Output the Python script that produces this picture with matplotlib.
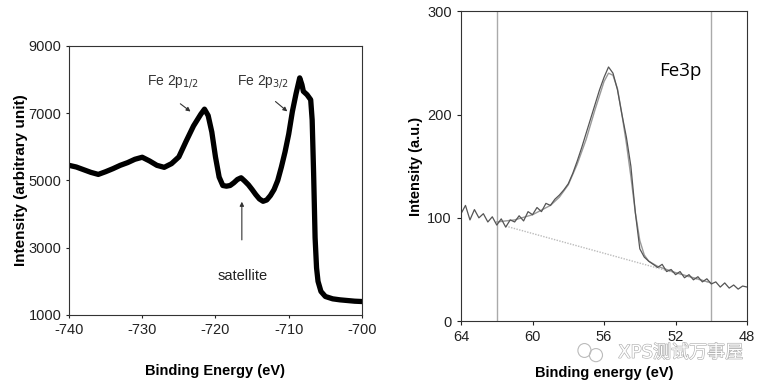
import matplotlib.pyplot as plt
import matplotlib.patheffects as pe
from matplotlib.patches import Ellipse
from matplotlib import font_manager

plt.rcParams['font.family'] = ['Liberation Sans', 'DejaVu Sans']
plt.rcParams['axes.unicode_minus'] = False

names = {f.name for f in font_manager.fontManager.ttflist}
tickfont = 'Liberation Sans Narrow' if 'Liberation Sans Narrow' in names else 'Liberation Sans'

# Fe 2p spectrum (left)
fe2p_energy = [-740, -739, -738, -737, -736, -735, -734, -733, -732, -731, -730,
               -729, -728, -727, -726, -725, -724, -723, -722, -721.5, -721,
               -720.5, -720, -719.5, -719, -718.5, -718, -717.5, -717, -716.5,
               -716, -715.5, -715, -714.5, -714, -713.5, -713, -712.5, -712,
               -711.5, -711, -710.5, -710, -709.5, -709, -708.5, -708.2, -708,
               -707.5, -707, -706.8, -706.6, -706.4, -706.2, -706, -705.6,
               -705, -704, -703, -702, -701, -700]
fe2p_counts = [5450, 5400, 5320, 5240, 5180, 5260, 5350, 5450, 5530, 5630, 5690,
               5580, 5450, 5390, 5500, 5700, 6170, 6620, 6970, 7120, 6930,
               6440, 5700, 5100, 4850, 4830, 4850, 4930, 5030, 5080,
               4980, 4870, 4730, 4580, 4450, 4380, 4420, 4550, 4730,
               5000, 5400, 5850, 6380, 7050, 7580, 8050, 7850, 7650,
               7550, 7400, 6800, 5200, 3300, 2400, 2000, 1700,
               1550, 1480, 1450, 1430, 1410, 1400]

# Fe 3p spectrum (right)
fe3p_energy = [64.0, 63.75, 63.5, 63.25, 63.0, 62.75, 62.5, 62.25, 62.0, 61.75,
               61.5, 61.25, 61.0, 60.75, 60.5, 60.25, 60.0, 59.75, 59.5, 59.25,
               59.0, 58.75, 58.5, 58.25, 58.0, 57.75, 57.5, 57.25, 57.0, 56.75,
               56.5, 56.25, 56.0, 55.75, 55.5, 55.25, 55.0, 54.75, 54.5, 54.25,
               54.0, 53.75, 53.5, 53.25, 53.0, 52.75, 52.5, 52.25, 52.0, 51.75,
               51.5, 51.25, 51.0, 50.75, 50.5, 50.25, 50.0, 49.75, 49.5, 49.25,
               49.0, 48.75, 48.5, 48.25, 48.0]
fe3p_counts = [104, 112, 98, 108, 100, 104, 96, 101, 93, 99,
               91, 98, 96, 102, 97, 106, 103, 110, 106, 114,
               112, 118, 122, 127, 133, 143, 155, 168, 182, 196,
               210, 224, 236, 246, 240, 224, 200, 178, 150, 105,
               70, 62, 58, 55, 52, 55, 48, 50, 45, 48,
               42, 45, 40, 43, 38, 41, 36, 38, 33, 37,
               32, 35, 31, 34, 33]
fit_energy = [62, 61, 60, 59, 58.5, 58, 57.5, 57, 56.5, 56, 55.75, 55.5, 55.25,
              55, 54.75, 54.5, 54.25, 54, 53.75, 53.5, 53, 52, 51, 50]
fit_counts = [96, 98, 103, 112, 120, 132, 152, 176, 205, 232, 240, 238, 225,
              200, 172, 140, 105, 78, 64, 58, 53, 47, 42, 37]
base_energy = [61.5, 50]
base_counts = [92, 37]
bounds = [62, 50]

fig = plt.figure(figsize=(7.69, 3.86), dpi=100)

# ---- left panel
ax1 = fig.add_axes([0.0897, 0.184, 0.381, 0.697])
ax1.plot(fe2p_energy, fe2p_counts, color='black', lw=3.8, solid_capstyle='round')
ax1.set_xlim(-740, -700)
ax1.set_ylim(1000, 9000)
ax1.set_xticks([-740, -730, -720, -710, -700])
ax1.set_yticks([1000, 3000, 5000, 7000, 9000])
ax1.tick_params(labelsize=10.5, length=2, colors='#222222')
for lab in ax1.get_xticklabels() + ax1.get_yticklabels():
    lab.set_family(tickfont)
for s in ax1.spines.values():
    s.set_color('#333333')
ax1.set_xlabel('Binding Energy (eV)', fontsize=10.5, fontweight='bold', labelpad=20)
ax1.set_ylabel('Intensity (arbitrary unit)', fontsize=11, fontweight='bold')
ax1.yaxis.set_label_coords(-0.14, 0.5)

ax1.annotate('', xy=(-723.1, 7000), xytext=(-725.1, 7330),
             arrowprops=dict(arrowstyle='-|>', color='#333333', lw=0.8, mutation_scale=6))
ax1.annotate('', xy=(-709.9, 7000), xytext=(-712.1, 7400),
             arrowprops=dict(arrowstyle='-|>', color='#333333', lw=0.8, mutation_scale=6))
ax1.annotate('', xy=(-716.4, 4450), xytext=(-716.4, 3150),
             arrowprops=dict(arrowstyle='-|>', color='#333333', lw=0.8, mutation_scale=6))
ax1.text(-729.3, 7950, r'Fe 2p$_{1/2}$', fontsize=10, va='center', color='#333333')
ax1.text(-717.0, 7950, r'Fe 2p$_{3/2}$', fontsize=10, va='center', color='#333333')
ax1.text(-716.3, 2160, 'satellite', fontsize=10.5, ha='center', va='center', color='#222222')

# ---- right panel
ax2 = fig.add_axes([0.5995, 0.168, 0.372, 0.803])
for b in bounds:
    ax2.axvline(b, color='#aaaaaa', lw=1)
ax2.plot(base_energy, base_counts, color='#bbbbbb', lw=1, ls=(0, (1, 1)))
ax2.plot(fit_energy, fit_counts, color='#999999', lw=1)
ax2.plot(fe3p_energy, fe3p_counts, color='#555555', lw=0.9)
ax2.set_xlim(64, 48)
ax2.set_ylim(0, 300)
ax2.set_xticks([64, 60, 56, 52, 48])
ax2.set_yticks([0, 100, 200, 300])
ax2.tick_params(labelsize=10.5, length=3, colors='#222222')
for lab in ax2.get_xticklabels() + ax2.get_yticklabels():
    lab.set_family(tickfont)
for s in ax2.spines.values():
    s.set_color('#333333')
ax2.set_xlabel('Binding energy (eV)', fontsize=10.5, fontweight='bold', labelpad=16)
ax2.set_ylabel('Intensity (a.u.)', fontsize=10.5, fontweight='bold')
ax2.yaxis.set_label_coords(-0.133, 0.5)
ax2.text(52.9, 242, 'Fe3p', fontsize=13.5, fontfamily='Open Sans', va='center', color='black')

# watermark (hollow grey glyphs)
fig.text(0.966, 0.086, 'XPS测试万事屋', ha='right', va='center',
         fontsize=13, color='white', family=['DejaVu Sans', 'Noto Sans CJK SC'],
         path_effects=[pe.withStroke(linewidth=0.9, foreground='#b0b0b0')])
fig.patches.append(Ellipse((0.760, 0.092), 0.017, 0.036, transform=fig.transFigure,
                           fill=False, ec='#bbbbbb', lw=0.8))
fig.patches.append(Ellipse((0.775, 0.080), 0.017, 0.034, transform=fig.transFigure,
                           fill=False, ec='#bbbbbb', lw=0.8))

fig.savefig('out.png', dpi=100)
